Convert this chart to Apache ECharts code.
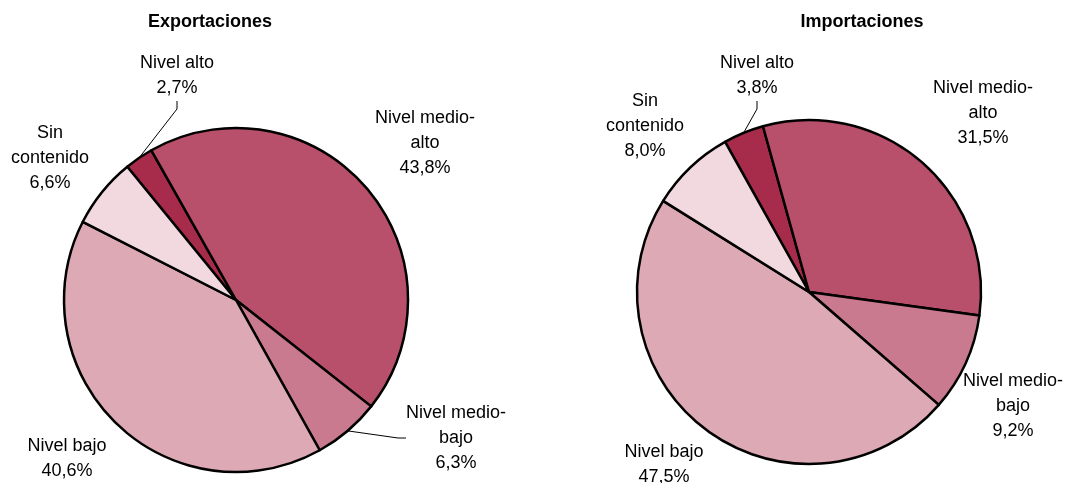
<!DOCTYPE html>
<html><head><meta charset="utf-8">
<script src="https://cdn.jsdelivr.net/npm/echarts@6/dist/echarts.min.js"></script>
<style>html,body{margin:0;padding:0;background:#fff}#c{width:1066px;height:483px}</style>
</head><body><div id="c"></div>
<script>
const categories = ['Nivel alto', 'Nivel medio-alto', 'Nivel medio-bajo', 'Nivel bajo', 'Sin contenido'];
const exportValues = [2.7, 43.8, 6.3, 40.6, 6.6];
const importValues = [3.8, 31.5, 9.2, 47.5, 8.0];
const chartTitles = ['Exportaciones', 'Importaciones'];

// styling / layout (not data)
const sliceColors = ['#A72B4A', '#B84F6B', '#C97A8E', '#DCA9B5', '#F1D9DF'];
const exportLabelPos = [[177, 76], [425, 143], [456, 438], [67, 459], [50, 158]];
const importLabelPos = [[757, 76], [983, 113], [1013, 406], [664, 465], [645, 126]];
const exportLines = [true, false, true, false, false];
const importLines = [true, false, false, false, false];

function wrap(name) {
  return name.replace('medio-', 'medio-\n').replace('Sin ', 'Sin\n');
}
function fmt(v) {
  return v.toFixed(1).replace('.', ',') + '%';
}
const FONT = '"Liberation Sans", Arial, sans-serif';

function makeSeries(values, center, startAngle, pos, lines) {
  return {
    type: 'pie',
    center: center,
    radius: 172,
    startAngle: startAngle,
    clockwise: true,
    animation: false,
    silent: true,
    avoidLabelOverlap: false,
    itemStyle: { borderColor: '#000', borderWidth: 2.5 },
    label: {
      show: true, position: 'outside',
      formatter: p => wrap(p.name) + '\n' + fmt(p.value),
      color: '#000', fontSize: 18, lineHeight: 25, fontFamily: FONT, align: 'center'
    },
    labelLine: { show: true, length: 8, length2: 8, lineStyle: { color: '#000', width: 1 } },
    labelLayout: function (params) {
      const p = pos[params.dataIndex];
      return { x: p[0], y: p[1], align: 'center', verticalAlign: 'middle' };
    },
    data: values.map((v, i) => ({
      name: categories[i], value: v,
      itemStyle: { color: sliceColors[i] },
      labelLine: { show: lines[i] }
    }))
  };
}

const chart = echarts.init(document.getElementById('c'), null, { renderer: 'canvas' });
chart.setOption({
  backgroundColor: '#fff',
  title: [
    { text: chartTitles[0], left: 210, top: 13, textAlign: 'center', padding: 0,
      textStyle: { fontSize: 18, fontWeight: 'bold', color: '#000', fontFamily: FONT } },
    { text: chartTitles[1], left: 862, top: 13, textAlign: 'center', padding: 0,
      textStyle: { fontSize: 18, fontWeight: 'bold', color: '#000', fontFamily: FONT } }
  ],
  series: [
    makeSeries(exportValues, [236, 300], 129.2, exportLabelPos, exportLines),
    makeSeries(importValues, [809, 292], 119.2, importLabelPos, importLines)
  ]
});
</script>
</body></html>
